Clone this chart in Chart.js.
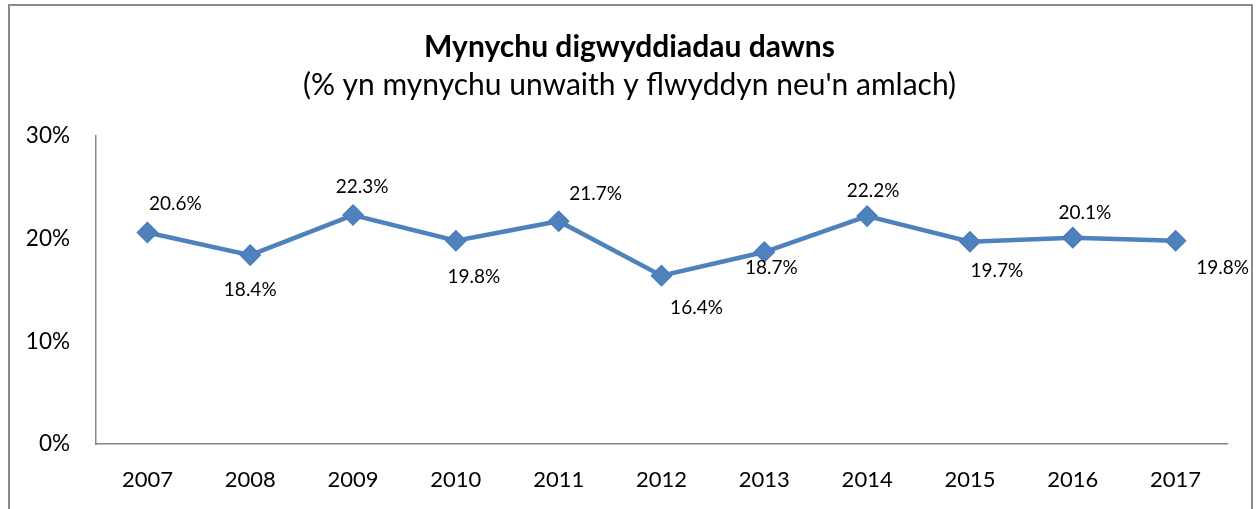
<!DOCTYPE html>
<html>
<head>
<meta charset="utf-8">
<script src="https://cdn.jsdelivr.net/npm/chart.js@4"></script>
<style>
html,body{margin:0;padding:0;background:#fff;}
#wrap{position:relative;width:1259px;height:509px;overflow:hidden;}
#frame{position:absolute;left:8px;top:4px;width:1245px;height:520px;border:2px solid #8a8a8a;box-sizing:border-box;}
canvas{position:absolute;left:0;top:0;}
</style>
</head>
<body>
<div id="wrap">
<div id="frame"></div>
<canvas id="c" width="1259" height="509"></canvas>
</div>
<script>
const categories = ['2007','2008','2009','2010','2011','2012','2013','2014','2015','2016','2017'];
const attendance = [20.6, 18.4, 22.3, 19.8, 21.7, 16.4, 18.7, 22.2, 19.7, 20.1, 19.8];
const titleText = 'Mynychu digwyddiadau dawns';
const subtitleText = "(% yn mynychu unwaith y flwyddyn neu'n amlach)";

const FONT = 'Lato, "Liberation Sans", sans-serif';
const labelOffsets = [[28,-29],[0,35],[9,-28],[18,36],[37,-27],[35,32],[7,16],[6,-25],[27,29],[12,-25],[47,27]];

const labelPlugin = {
  id: 'pointLabels',
  afterDatasetsDraw(chart) {
    const ctx = chart.ctx;
    const meta = chart.getDatasetMeta(0);
    ctx.save();
    ctx.font = '19px ' + FONT;
    ctx.fillStyle = '#000';
    ctx.textAlign = 'center';
    ctx.textBaseline = 'middle';
    meta.data.forEach((pt, i) => {
      const o = labelOffsets[i];
      ctx.fillText(attendance[i].toFixed(1) + '%', pt.x + o[0], pt.y + o[1]);
    });
    ctx.restore();
  }
};

new Chart(document.getElementById('c'), {
  type: 'line',
  data: {
    labels: categories,
    datasets: [{
      data: attendance,
      borderColor: '#4F81BD',
      backgroundColor: '#4F81BD',
      borderWidth: 4.5,
      pointStyle: 'rectRot',
      pointRadius: 10,
      pointBorderWidth: 1.5,
      pointBorderColor: '#4A7EBB',
      tension: 0
    }]
  },
  options: {
    responsive: false,
    animation: false,
    layout: { padding: 0 },
    plugins: {
      legend: { display: false },
      tooltip: { enabled: false },
      title: {
        display: true, text: titleText, color: '#000',
        font: { family: FONT, size: 30, weight: 'bold' },
        padding: { top: 29, bottom: 2 }
      },
      subtitle: {
        display: true, text: subtitleText, color: '#000',
        font: { family: FONT, size: 30 },
        padding: { top: 0, bottom: 33 }
      }
    },
    scales: {
      x: {
        offset: true,
        grid: { display: false, drawTicks: false },
        border: { display: true, color: '#868686', width: 1.5 },
        ticks: { color: '#000', font: { family: FONT, size: 22 }, padding: 23, maxRotation: 0 },
        afterFit(scale) { scale.height = 65; }
      },
      y: {
        min: 0, max: 30,
        grid: { display: false, drawTicks: false },
        border: { display: true, color: '#868686', width: 1.5 },
        ticks: { stepSize: 10, color: '#000', font: { family: FONT, size: 22.5 }, padding: 26,
          callback: v => v + '%' },
        afterFit(scale) { scale.width = 96; }
      },
      yRightSpace: {
        position: 'right',
        display: true,
        min: 0, max: 30,
        grid: { display: false, drawTicks: false },
        border: { display: false },
        ticks: { display: false },
        afterFit(scale) { scale.width = 32; }
      }
    }
  },
  plugins: [labelPlugin]
});
</script>
</body>
</html>
